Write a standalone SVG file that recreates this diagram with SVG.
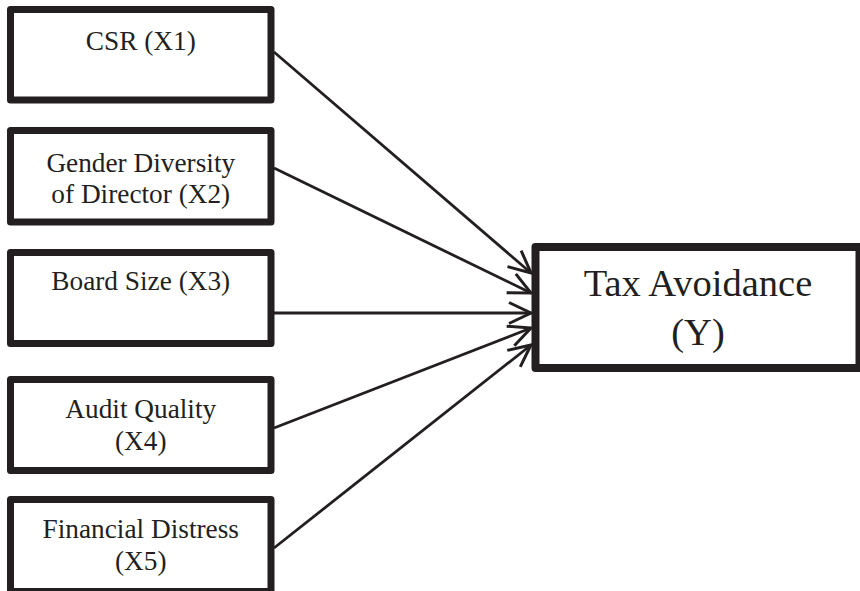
<svg xmlns="http://www.w3.org/2000/svg" width="860" height="591" viewBox="0 0 860 591">
  <style>
    .box { fill: #ffffff; stroke: #231f20; stroke-width: 7; stroke-linejoin: round; }
    .tbox { fill: #ffffff; stroke: #231f20; stroke-width: 8; stroke-linejoin: round; }
    .lbl { font-family: "Liberation Serif", "Times New Roman", serif; font-size: 27.3px; fill: #231f20; text-anchor: middle; }
    .tlbl { font-family: "Liberation Serif", "Times New Roman", serif; font-size: 38.5px; fill: #231f20; text-anchor: middle; }
    .conn { stroke: #231f20; stroke-width: 2.8; fill: none; }
  </style>
  <defs>
    <marker id="arrow" markerUnits="userSpaceOnUse" markerWidth="30" markerHeight="30" viewBox="-26 -15 30 30" refX="0" refY="0" orient="auto" overflow="visible">
      <path d="M -22,-10.5 L 0,0 L -22,10.5" fill="none" stroke="#231f20" stroke-width="3" stroke-linejoin="miter"/>
    </marker>
  </defs>
  <rect width="860" height="591" fill="#ffffff"/>
  <g id="connectors">
    <line class="conn" x1="274" y1="52" x2="531" y2="273" marker-end="url(#arrow)"/>
    <line class="conn" x1="274" y1="168" x2="531" y2="293" marker-end="url(#arrow)"/>
    <line class="conn" x1="274" y1="313" x2="531" y2="313" marker-end="url(#arrow)"/>
    <line class="conn" x1="274" y1="428" x2="531" y2="328" marker-end="url(#arrow)"/>
    <line class="conn" x1="274" y1="548" x2="531" y2="345" marker-end="url(#arrow)"/>
  </g>
  <g id="x1">
    <rect class="box" x="10.5" y="9.5" width="260.5" height="90.5"/>
    <text class="lbl" x="140.75" y="50">CSR (X1)</text>
  </g>
  <g id="x2">
    <rect class="box" x="10.5" y="130.5" width="260.5" height="91.5"/>
    <text class="lbl" x="140.75" y="172">Gender Diversity</text>
    <text class="lbl" x="140.75" y="203">of Director (X2)</text>
  </g>
  <g id="x3">
    <rect class="box" x="10.5" y="252.5" width="260.5" height="91"/>
    <text class="lbl" x="140.75" y="290">Board Size (X3)</text>
  </g>
  <g id="x4">
    <rect class="box" x="10.5" y="379.5" width="260.5" height="91"/>
    <text class="lbl" x="140.75" y="418">Audit Quality</text>
    <text class="lbl" x="140.75" y="450">(X4)</text>
  </g>
  <g id="x5">
    <rect class="box" x="10.5" y="499.5" width="260.5" height="92"/>
    <text class="lbl" x="140.75" y="538">Financial Distress</text>
    <text class="lbl" x="140.75" y="570">(X5)</text>
  </g>
  <g id="y">
    <rect class="tbox" x="535.5" y="247" width="324" height="121"/>
    <text class="tlbl" x="698" y="296">Tax Avoidance</text>
    <text class="tlbl" x="698" y="345">(Y)</text>
  </g>
</svg>
